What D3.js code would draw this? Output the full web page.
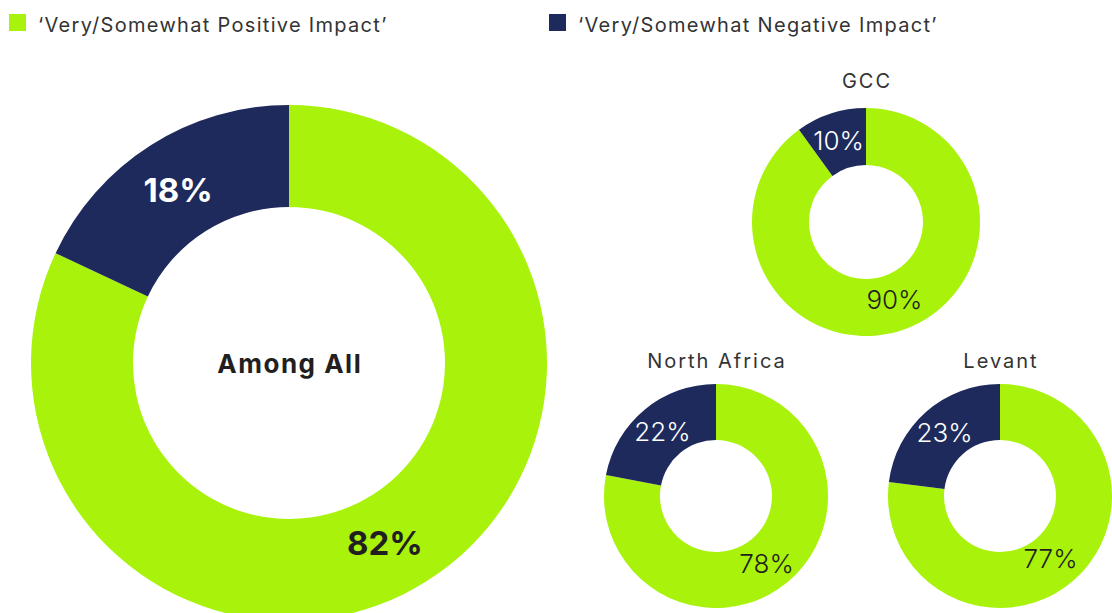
<!DOCTYPE html>
<html><head><meta charset="utf-8">
<script src="https://cdn.jsdelivr.net/npm/d3@7"></script>
<style>body{margin:0;background:#fff;}svg{display:block;}</style>
</head><body>
<svg id="c" width="1112" height="613"></svg>
<script>
const seriesNames = ["\u2018Very/Somewhat Positive Impact\u2019", "\u2018Very/Somewhat Negative Impact\u2019"];
const seriesColors = ["#a8f20b", "#1e2a5c"];
const groups = ["Among All", "GCC", "North Africa", "Levant"];
const positive = [82, 90, 78, 77];
const negative = [18, 10, 22, 23];

const svg = d3.select("#c");
const font = "Inter, 'Open Sans', sans-serif";
const dark = "#231f20";

const legend = [{x: 9, tx: 38}, {x: 549, tx: 578}];
seriesNames.forEach((n, i) => {
  svg.append("rect").attr("x", legend[i].x).attr("y", 14).attr("width", 17).attr("height", 17).attr("fill", seriesColors[i]);
  svg.append("text").attr("x", legend[i].tx).attr("y", 32).attr("font-family", font).attr("font-size", 20)
    .attr("letter-spacing", 1.3).attr("fill", "#333").text(n);
});

const layout = [
  {cx: 289, cy: 363, r: 258, ir: 156, main: true, shift: [[-15, 5], [0, 2]]},
  {cx: 866, cy: 222, r: 114, ir: 57, ty: 88, shift: [[2, -4], [-1, 0]]},
  {cx: 716, cy: 496, r: 112, ir: 56, ty: 368, shift: [[-3, 3], [0, 0]]},
  {cx: 1000, cy: 496, r: 112, ir: 56, ty: 368, shift: [[-5, 0], [0, 0]]}
];

const pie = d3.pie().sort(null).value(d => d.v);

groups.forEach((g, i) => {
  const L = layout[i];
  const data = [{k: 0, v: positive[i]}, {k: 1, v: negative[i]}];
  const arcs = pie(data);
  const arc = d3.arc().innerRadius(L.ir).outerRadius(L.r);
  const G = svg.append("g").attr("transform", `translate(${L.cx},${L.cy})`);
  G.selectAll("path").data(arcs).join("path").attr("d", arc).attr("fill", d => seriesColors[d.data.k]);
  G.selectAll("text.v").data(arcs).join("text").attr("class", "v")
    .attr("transform", d => {
      const c = arc.centroid(d), s = L.shift[d.data.k];
      return `translate(${c[0] + s[0]},${c[1] + s[1]})`;
    })
    .attr("text-anchor", "middle").attr("dy", "0.36em")
    .attr("font-family", font)
    .attr("font-size", L.main ? 33 : 26)
    .attr("font-weight", L.main ? 700 : 300)
    .attr("fill", d => d.data.k === 1 ? "#fff" : dark)
    .text(d => d.data.v + "%");
  if (L.main) {
    G.append("text").attr("text-anchor", "middle").attr("y", 10).attr("dx", 0.75).attr("font-family", font)
      .attr("font-size", 26).attr("letter-spacing", 1.5).attr("font-weight", 700).attr("fill", dark).text(g);
  } else {
    svg.append("text").attr("x", L.cx).attr("y", L.ty).attr("dx", 1).attr("text-anchor", "middle").attr("font-family", font)
      .attr("font-size", 20).attr("letter-spacing", 2).attr("fill", "#333").text(g);
  }
});
</script>
</body></html>
